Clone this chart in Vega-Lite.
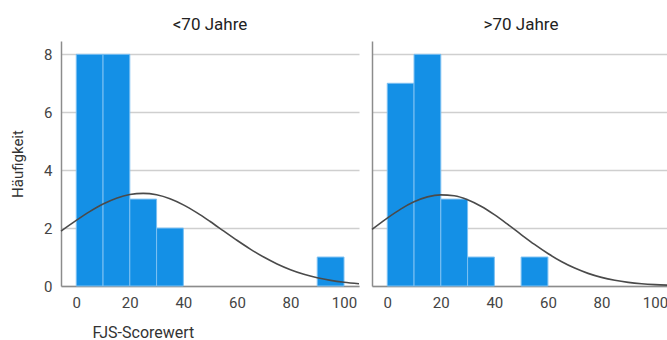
{
  "$schema": "https://vega.github.io/schema/vega-lite/v6.json",
  "background": "white",
  "padding": {"left": 10, "top": 16, "right": 0, "bottom": 0},
  "datasets": {
    "balken_unter70": [
      {"von": 0, "bis": 10, "anzahl": 8},
      {"von": 10, "bis": 20, "anzahl": 8},
      {"von": 20, "bis": 30, "anzahl": 3},
      {"von": 30, "bis": 40, "anzahl": 2},
      {"von": 90, "bis": 100, "anzahl": 1}
    ],
    "kurve_unter70": [
      {"wert": -5.7, "dichte": 1.895},
      {"wert": 0, "dichte": 2.265},
      {"wert": 5, "dichte": 2.568},
      {"wert": 10, "dichte": 2.831},
      {"wert": 15, "dichte": 3.034},
      {"wert": 20, "dichte": 3.16},
      {"wert": 25, "dichte": 3.2},
      {"wert": 30, "dichte": 3.149},
      {"wert": 35, "dichte": 3.013},
      {"wert": 40, "dichte": 2.802},
      {"wert": 45, "dichte": 2.533},
      {"wert": 50, "dichte": 2.226},
      {"wert": 55, "dichte": 1.902},
      {"wert": 60, "dichte": 1.579},
      {"wert": 65, "dichte": 1.275},
      {"wert": 70, "dichte": 1.0},
      {"wert": 75, "dichte": 0.763},
      {"wert": 80, "dichte": 0.565},
      {"wert": 85, "dichte": 0.407},
      {"wert": 90, "dichte": 0.285},
      {"wert": 95, "dichte": 0.194},
      {"wert": 100, "dichte": 0.129},
      {"wert": 105.6, "dichte": 0.078}
    ],
    "balken_ueber70": [
      {"von": 0, "bis": 10, "anzahl": 7},
      {"von": 10, "bis": 20, "anzahl": 8},
      {"von": 20, "bis": 30, "anzahl": 3},
      {"von": 30, "bis": 40, "anzahl": 1},
      {"von": 50, "bis": 60, "anzahl": 1}
    ],
    "kurve_ueber70": [
      {"wert": -5.7, "dichte": 1.953},
      {"wert": 0, "dichte": 2.345},
      {"wert": 5, "dichte": 2.655},
      {"wert": 10, "dichte": 2.907},
      {"wert": 15, "dichte": 3.077},
      {"wert": 20, "dichte": 3.148},
      {"wert": 25, "dichte": 3.114},
      {"wert": 30, "dichte": 2.979},
      {"wert": 35, "dichte": 2.754},
      {"wert": 40, "dichte": 2.462},
      {"wert": 45, "dichte": 2.128},
      {"wert": 50, "dichte": 1.777},
      {"wert": 55, "dichte": 1.435},
      {"wert": 60, "dichte": 1.121},
      {"wert": 65, "dichte": 0.846},
      {"wert": 70, "dichte": 0.618},
      {"wert": 75, "dichte": 0.436},
      {"wert": 80, "dichte": 0.297},
      {"wert": 85, "dichte": 0.196},
      {"wert": 90, "dichte": 0.125},
      {"wert": 95, "dichte": 0.077},
      {"wert": 100, "dichte": 0.046},
      {"wert": 105.6, "dichte": 0.025}
    ]
  },
  "spacing": 5,
  "hconcat": [
    {
      "title": "<70 Jahre",
      "width": 298,
      "height": 245,
      "layer": [
        {
          "data": {"name": "balken_unter70"},
          "mark": {"type": "bar", "color": "#1490e6", "stroke": "#7cc0f2", "strokeWidth": 1},
          "encoding": {
            "x": {
              "field": "von", "type": "quantitative",
              "scale": {"domain": [-5.7, 105.6], "nice": false, "zero": false},
              "axis": {"values": [0, 20, 40, 60, 80, 100], "title": "FJS-Scorewert", "titleFontSize": 16, "titleAnchor": "start", "titleAlign": "left", "titleX": 31, "titleY": 51, "titleBaseline": "alphabetic"}
            },
            "x2": {"field": "bis"},
            "y": {
              "field": "anzahl", "type": "quantitative",
              "scale": {"domain": [0, 8.46], "nice": false},
              "axis": {"values": [0, 2, 4, 6, 8], "title": "Häufigkeit"}
            },
            "y2": {"datum": 0}
          }
        },
        {
          "data": {"name": "kurve_unter70"},
          "mark": {"type": "line", "color": "#4a4a4a", "strokeWidth": 1.6, "interpolate": "monotone"},
          "encoding": {
            "x": {"field": "wert", "type": "quantitative"},
            "y": {"field": "dichte", "type": "quantitative"}
          }
        }
      ]
    },
    {
      "title": ">70 Jahre",
      "width": 298,
      "height": 245,
      "layer": [
        {
          "data": {"name": "balken_ueber70"},
          "mark": {"type": "bar", "color": "#1490e6", "stroke": "#7cc0f2", "strokeWidth": 1},
          "encoding": {
            "x": {
              "field": "von", "type": "quantitative",
              "scale": {"domain": [-5.7, 105.6], "nice": false, "zero": false},
              "axis": {"values": [0, 20, 40, 60, 80, 100], "title": null}
            },
            "x2": {"field": "bis"},
            "y": {
              "field": "anzahl", "type": "quantitative",
              "scale": {"domain": [0, 8.46], "nice": false},
              "axis": {"values": [0, 2, 4, 6, 8], "title": null, "labels": false}
            },
            "y2": {"datum": 0}
          }
        },
        {
          "data": {"name": "kurve_ueber70"},
          "mark": {"type": "line", "color": "#4a4a4a", "strokeWidth": 1.6, "interpolate": "monotone"},
          "encoding": {
            "x": {"field": "wert", "type": "quantitative"},
            "y": {"field": "dichte", "type": "quantitative"}
          }
        }
      ]
    }
  ],
  "config": {
    "font": "Roboto",
    "view": {"stroke": null},
    "title": {"fontSize": 17, "fontWeight": "normal", "color": "#222222", "offset": 7, "anchor": "middle"},
    "axis": {
      "ticks": false,
      "labelFont": "Roboto",
      "labelFontSize": 15,
      "labelColor": "#444444",
      "titleFont": "Roboto",
      "titleFontSize": 15,
      "titleFontWeight": "normal",
      "titleColor": "#333333",
      "domainColor": "#8c8c8c",
      "domainWidth": 1.5,
      "gridColor": "#cfcfcf",
      "gridWidth": 1.5
    },
    "axisX": {"grid": false, "labelPadding": 9},
    "axisY": {"grid": true, "labelPadding": 9, "titlePadding": 18}
  }
}
